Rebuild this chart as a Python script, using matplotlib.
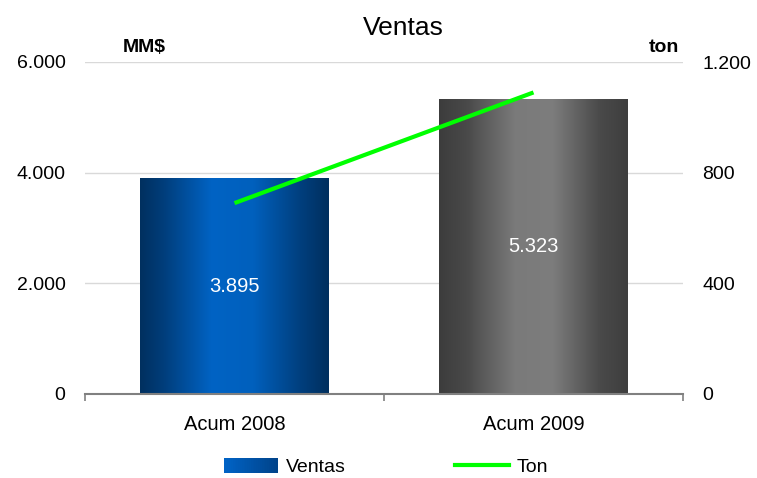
import matplotlib
matplotlib.use("Agg")
import matplotlib.pyplot as plt
import numpy as np
from matplotlib.colors import LinearSegmentedColormap
from matplotlib.ticker import FuncFormatter
from matplotlib.lines import Line2D
from matplotlib.legend_handler import HandlerBase
import matplotlib.patches as mpatches

plt.rcParams["font.family"] = ["Liberation Sans", "DejaVu Sans"]

categories = ["Acum 2008", "Acum 2009"]
ventas = [3895, 5323]
ton = [690, 1090]
bar_labels = ["3.895", "5.323"]

blue_cmap = LinearSegmentedColormap.from_list(
    "blue", [(0, "#00305f"), (0.12, "#003d7a"), (0.38, "#0063c4"), (0.6, "#0060bd"), (0.85, "#003f7e"), (1, "#002f5e")]
)
gray_cmap = LinearSegmentedColormap.from_list(
    "gray", [(0, "#3c3c3c"), (0.15, "#4a4a4a"), (0.4, "#7a7a7a"), (0.6, "#7d7d7d"), (0.85, "#4a4a4a"), (1, "#3e3e3e")]
)
legend_cmap = LinearSegmentedColormap.from_list("leg", ["#0063c6", "#00438a"])


def thousands(v, pos):
    return f"{v:,.0f}".replace(",", ".")


class GradientHandler(HandlerBase):
    # legend patch drawn as a left-to-right gradient
    def create_artists(self, legend, orig_handle, xdescent, ydescent, width, height, fontsize, trans):
        n = 30
        arts = []
        for i in range(n):
            r = mpatches.Rectangle(
                (-xdescent + width * i / n, -ydescent), width / n * 1.05, height,
                facecolor=legend_cmap(i / (n - 1)), edgecolor="none", transform=trans,
            )
            arts.append(r)
        return arts


fig = plt.figure(figsize=(7.57, 4.78), dpi=100)
ax = fig.add_axes([85 / 757, 84 / 478, 598 / 757, 332 / 478])
ax2 = ax.twinx()

x = np.arange(len(categories))
bars = ax.bar(x, ventas, width=0.63, color="none", zorder=2)
grad = np.linspace(0, 1, 256).reshape(1, -1)
for b, cmap, lab in zip(bars, [blue_cmap, gray_cmap], bar_labels):
    x0, y0 = b.get_x(), b.get_y()
    w, h = b.get_width(), b.get_height()
    ax.imshow(grad, cmap=cmap, aspect="auto", extent=[x0, x0 + w, y0, y0 + h], zorder=2)
    ax.text(x0 + w / 2, h / 2, lab, color="white", ha="center", va="center", fontsize=14.5, zorder=3)

ax.set_xlim(-0.5, 1.5)
ax.set_ylim(0, 6000)
ax.set_yticks([0, 2000, 4000, 6000])
ax.yaxis.set_major_formatter(FuncFormatter(thousands))
ax.set_xticks(x)
ax.set_xticklabels(categories)
ax.set_xticks([-0.5, 0.5, 1.5], minor=True)
ax.tick_params(axis="x", which="major", length=0, labelsize=14.5, pad=15)
ax.tick_params(axis="x", which="minor", length=5, color="#808080", width=1.2)
ax.tick_params(axis="y", length=0, labelsize=14, pad=14)
ax.grid(axis="y", color="#d9d9d9", linewidth=1)
ax.set_axisbelow(True)
for s in ["left", "right", "top"]:
    ax.spines[s].set_visible(False)
ax.spines["bottom"].set_color("#808080")
ax.spines["bottom"].set_linewidth(1.5)
ax.spines["bottom"].set_zorder(4)

ax2.plot(x, ton, color="#00ff00", linewidth=3, solid_capstyle="butt", zorder=5)
ax2.set_ylim(0, 1200)
ax2.set_yticks([0, 400, 800, 1200])
ax2.yaxis.set_major_formatter(FuncFormatter(thousands))
ax2.tick_params(axis="y", length=0, labelsize=14, pad=14)
for s in ["left", "right", "top", "bottom"]:
    ax2.spines[s].set_visible(False)

fig.text(403 / 757, 1 - 28 / 478, "Ventas", ha="center", va="center", fontsize=19)
fig.text(144 / 757, 1 - 48 / 478, "MM$", ha="center", va="center", fontsize=14, fontweight="bold")
fig.text(664 / 757, 1 - 48 / 478, "ton", ha="center", va="center", fontsize=14, fontweight="bold")

handles = [
    mpatches.Rectangle((0, 0), 1, 1, facecolor="#0052a8"),
    Line2D([0], [0], color="#00ff00", linewidth=3),
]
fig.legend(
    handles,
    ["Ventas", "Ton"],
    handler_map={mpatches.Rectangle: GradientHandler()},
    loc="center",
    bbox_to_anchor=(386 / 757, 1 - 467 / 478),
    ncol=2,
    frameon=False,
    fontsize=14,
    handlelength=2.8,
    handleheight=0.8,
    handletextpad=0.4,
    columnspacing=5.6,
)

fig.savefig("out.png", dpi=100)
